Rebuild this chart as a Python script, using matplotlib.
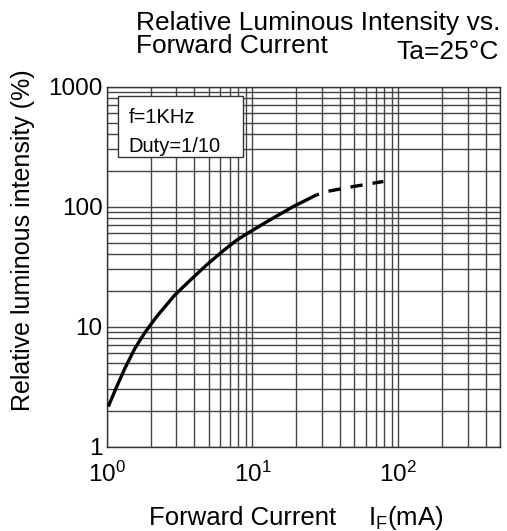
import numpy as np
import matplotlib
matplotlib.use('Agg')
import matplotlib.pyplot as plt
from matplotlib.patches import Rectangle

plt.rcParams['font.family'] = ['Liberation Sans', 'DejaVu Sans']
plt.rcParams['mathtext.fontset'] = 'custom'
plt.rcParams['mathtext.rm'] = 'Liberation Sans'
plt.rcParams['mathtext.it'] = 'Liberation Sans'

# curve
i_solid = [1.025, 1.171, 1.335, 1.564, 1.832, 2.204, 2.943, 3.73, 4.86, 6.31,
           7.80, 10.14, 13.21, 19.09, 27.6]
lum_solid = [2.16, 3.16, 4.51, 6.62, 8.97, 12.16, 18.45, 24.3, 32.8, 42.96,
             52.7, 64.2, 77.7, 100.4, 125.7]
i_dash = [27.6, 32.4, 46.8, 79.1]
lum_dash = [125.7, 133.9, 145.7, 162.3]

x_ticks = [1, 10, 100]
x_ticklabels = [r'10$^{0}$', r'10$^{1}$', r'10$^{2}$']
y_ticks = [1, 10, 100, 1000]
y_ticklabels = ['1', '10', '100', '1000']

fig = plt.figure(figsize=(5.07, 5.31), dpi=100)
ax = fig.add_axes([0.2104, 0.1588, 0.7760, 0.6779])
ax.set_xscale('log')
ax.set_yscale('log')
ax.set_xlim(1, 500)
ax.set_ylim(1, 1000)

ax.set_axisbelow(True)
ax.grid(True, which='both', color='#444444', linewidth=1.0)

ax.plot(i_solid, lum_solid, color='black', linewidth=2.4, zorder=4,
        solid_capstyle='butt', solid_joinstyle='round')
ax.plot(i_dash, lum_dash, color='black', linewidth=2.4, zorder=4,
        linestyle=(3.0, (3.7, 3.0)), dash_capstyle='butt')

ax.set_xticks(x_ticks)
ax.set_xticklabels(x_ticklabels)
ax.set_yticks(y_ticks)
ax.set_yticklabels(y_ticklabels)
ax.tick_params(which='both', length=0)
ax.tick_params(axis='x', labelsize=17.5, pad=11)
ax.tick_params(axis='y', labelsize=17.5, pad=3)
for s in ax.spines.values():
    s.set_color('#333333')
    s.set_linewidth(1.0)

box = Rectangle((0.028, 0.806), 0.319, 0.168, transform=ax.transAxes,
                facecolor='white', edgecolor='#333333', linewidth=1.0, zorder=3)
ax.add_patch(box)
ax.text(0.056, 0.915, 'f=1KHz', transform=ax.transAxes, fontsize=14.5, va='center', zorder=5)
ax.text(0.056, 0.835, 'Duty=1/10', transform=ax.transAxes, fontsize=14.5, va='center', zorder=5)

fig.text(0.268, 0.9435, 'Relative Luminous Intensity vs.', fontsize=19, va='baseline')
fig.text(0.268, 0.9002, 'Forward Current', fontsize=19, va='baseline')
fig.text(0.984, 0.8889, 'Ta=25°C', fontsize=19, va='baseline', ha='right')

fig.text(0.294, 0.0113, 'Forward Current', fontsize=18.5, va='baseline')
fig.text(0.726, 0.0113, r'I$_\mathregular{F}$(mA)', fontsize=18.5, va='baseline')
fig.text(0.045, 0.548, 'Relative luminous intensity (%)', fontsize=18, rotation=90,
         ha='center', va='center')

plt.savefig('out.png', dpi=100)
